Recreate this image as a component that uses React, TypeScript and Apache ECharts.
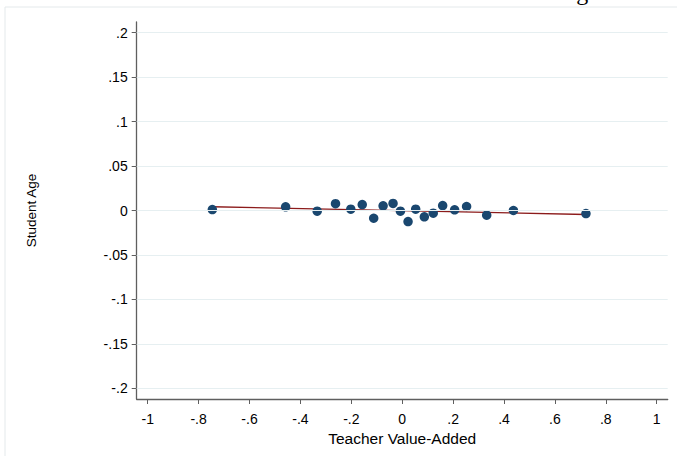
import React, { useEffect, useRef } from "react";
import * as echarts from "echarts";

// Binned scatter: teacher value-added vs. student age (residualised)
const pointX = [-0.746, -0.458, -0.334, -0.262, -0.202, -0.157, -0.112, -0.075, -0.036, -0.007, 0.023, 0.053, 0.087, 0.122, 0.159, 0.206, 0.253, 0.332, 0.437, 0.722];
const pointY = [0.0011, 0.0042, -0.0008, 0.0076, 0.0015, 0.0067, -0.0087, 0.0053, 0.0079, -0.0008, -0.0124, 0.0015, -0.0071, -0.003, 0.0056, 0.0008, 0.0045, -0.0053, 0.0, -0.0034];

// Fitted line endpoints
const fitX = [-0.746, 0.722];
const fitY = [0.0042, -0.0045];

const xTicks = [-1, -0.8, -0.6, -0.4, -0.2, 0, 0.2, 0.4, 0.6, 0.8, 1];
const yTicks = [-0.2, -0.15, -0.1, -0.05, 0, 0.05, 0.1, 0.15, 0.2];

const xTitle = "Teacher Value-Added";
const yTitle = "Student Age";

function fmt(v: number): string {
  const s = String(Number(v.toFixed(3)));
  return s.replace(/^(-?)0\./, "$1.");
}

export default function App() {
  const ref = useRef<HTMLDivElement>(null);
  useEffect(() => {
    if (!ref.current) return;
    const chart = echarts.init(ref.current, null, { renderer: "svg" });
    const axisColor = "#5f5f5f";
    const font = "Liberation Sans, Arial, sans-serif";
    chart.setOption({
      animation: false,
      backgroundColor: "#ffffff",
      grid: { left: 136.7, right: 9.3, top: 22, bottom: 57, containLabel: false },
      graphic: [
        {
          type: "rect",
          shape: { x: 5, y: 7, width: 720, height: 500 },
          style: { fill: "none", stroke: "#e4e9eb", lineWidth: 1 },
          silent: true,
        },
        {
          type: "text",
          x: 599,
          y: 4,
          style: {
            text: yTitle,
            fontFamily: "Liberation Serif, Times New Roman, serif",
            fontSize: 24,
            fill: "#000000",
            textAlign: "right",
            textVerticalAlign: "bottom",
          },
          silent: true,
        },
      ],
      xAxis: {
        type: "value",
        min: -1.0432,
        max: 1.0432,
        name: xTitle,
        nameLocation: "middle",
        nameGap: 27,
        nameTextStyle: { color: "#000", fontSize: 15.5, fontFamily: font },
        axisLine: { show: true, onZero: false, lineStyle: { color: axisColor, width: 1.3 } },
        axisTick: { show: true, length: 5, customValues: xTicks, lineStyle: { color: axisColor, width: 1 } },
        axisLabel: {
          show: true,
          customValues: xTicks,
          formatter: (v: number) => fmt(v),
          color: "#000",
          fontSize: 14,
          fontFamily: font,
          margin: 13,
        },
        splitLine: { show: false },
      },
      yAxis: {
        type: "value",
        min: -0.2118,
        max: 0.2118,
        name: yTitle,
        nameLocation: "middle",
        nameGap: 98,
        nameRotate: 90,
        nameTextStyle: { color: "#000", fontSize: 13.5, fontFamily: font },
        axisLine: { show: true, onZero: false, lineStyle: { color: axisColor, width: 1.3 } },
        axisTick: { show: true, length: 5, customValues: yTicks, lineStyle: { color: axisColor, width: 1 } },
        axisLabel: {
          show: true,
          customValues: yTicks,
          formatter: (v: number) => fmt(v),
          color: "#000",
          fontSize: 14,
          fontFamily: font,
          margin: 9,
        },
        splitLine: { show: false },
      },
      series: [
        {
          type: "line",
          data: [],
          z: 0,
          silent: true,
          markLine: {
            silent: true,
            symbol: "none",
            label: { show: false },
            lineStyle: { color: "#e6eff1", width: 1, type: "solid" },
            data: yTicks.map((v) => ({ yAxis: v })),
          },
        },
        {
          type: "line",
          data: fitX.map((x, i) => [x, fitY[i]]),
          showSymbol: false,
          symbol: "none",
          lineStyle: { color: "#8c1b1b", width: 1.3 },
          z: 2,
          silent: true,
        },
        {
          type: "scatter",
          data: pointX.map((x, i) => [x, pointY[i]]),
          symbol: "circle",
          symbolSize: 9.5,
          itemStyle: { color: "#1a476f", opacity: 1 },
          z: 3,
          silent: true,
        },
      ],
    });
    return () => chart.dispose();
  }, []);
  return (
    <div
      ref={ref}
      style={{ position: "absolute", left: 0, top: 0, width: 677, height: 456 }}
    />
  );
}
